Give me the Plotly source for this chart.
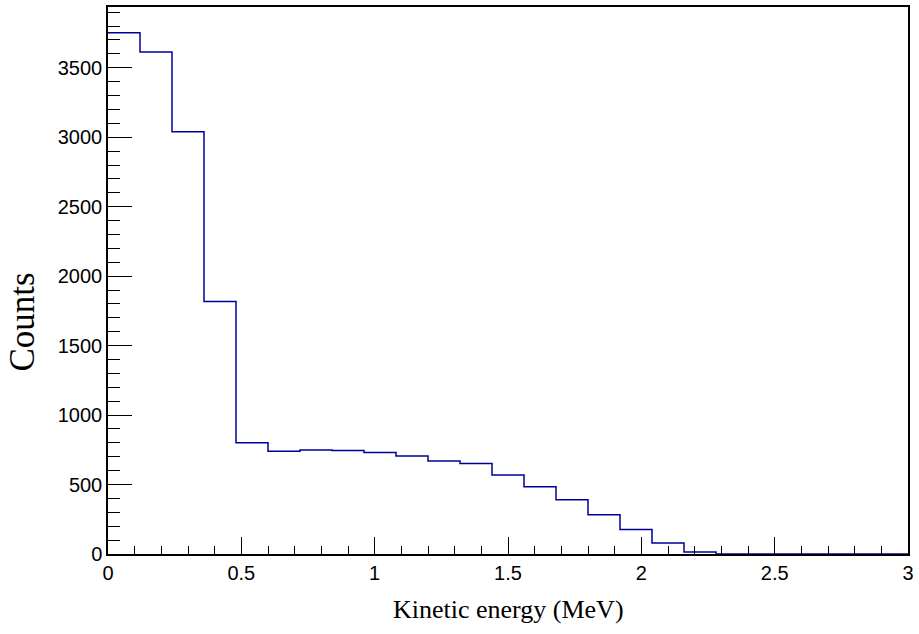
import numpy as np
import plotly.graph_objects as go

# Histogram of kinetic energy: 25 bins of 0.12 MeV from 0 to 3 MeV
bin_width = 0.12
x_min = 0.0
counts = [3752, 3613, 3039, 1817, 800, 740, 749, 745, 730, 706, 670, 651,
          568, 484, 390, 282, 177, 79, 14, 0, 0, 0, 0, 0, 0]

x_ticks = [0, 0.5, 1, 1.5, 2, 2.5, 3]
x_tick_text = ["0", "0.5", "1", "1.5", "2", "2.5", "3"]
y_ticks = [0, 500, 1000, 1500, 2000, 2500, 3000, 3500]
y_tick_text = ["0", "500", "1000", "1500", "2000", "2500", "3000", "3500"]

edges = x_min + bin_width * np.arange(len(counts) + 1)
step_y = counts + [counts[-1]]

fig = go.Figure()
fig.add_trace(go.Scatter(
    x=edges, y=step_y, mode="lines", line_shape="hv",
    line=dict(color="#000099", width=1.5), showlegend=False,
    hoverinfo="skip",
))

tick_font = dict(family="Liberation Sans, Arial, sans-serif", size=20, color="black")
xtitle_font = dict(family="Liberation Serif, Times New Roman, serif", size=26, color="black")
ytitle_font = dict(family="Liberation Serif, Times New Roman, serif", size=35, color="black")

fig.update_layout(
    width=919, height=634,
    margin=dict(l=108, r=5, t=5, b=80),
    paper_bgcolor="white", plot_bgcolor="white",
    xaxis=dict(
        range=[0, 3], tickvals=x_ticks, ticktext=x_tick_text,
        ticks="inside", ticklen=17, tickwidth=1, tickcolor="black",
        minor=dict(dtick=0.1, ticks="inside", ticklen=8, tickcolor="black", tickwidth=1),
        showgrid=False, zeroline=False, showline=True, linecolor="black",
        linewidth=1.5, mirror=True, tickfont=tick_font,
    ),
    yaxis=dict(
        range=[0, 3937.5], tickvals=y_ticks, ticktext=y_tick_text,
        ticks="inside", ticklen=24, tickwidth=1, tickcolor="black",
        minor=dict(dtick=100, ticks="inside", ticklen=12, tickcolor="black", tickwidth=1),
        showgrid=False, zeroline=False, showline=True, linecolor="black",
        linewidth=1.5, mirror=True, tickfont=tick_font,
    ),
    annotations=[
        dict(text="Kinetic energy (MeV)", xref="paper", yref="paper",
             x=(512 - 108) / 806, y=-(610 - 554) / 549, xanchor="center",
             yanchor="middle", showarrow=False, font=xtitle_font),
        dict(text="Counts", xref="paper", yref="paper",
             x=-(108 - 22) / 806, y=(554 - 321) / 549, xanchor="center",
             yanchor="middle", textangle=-90, showarrow=False, font=ytitle_font),
    ],
)

fig.write_html("out.html")
